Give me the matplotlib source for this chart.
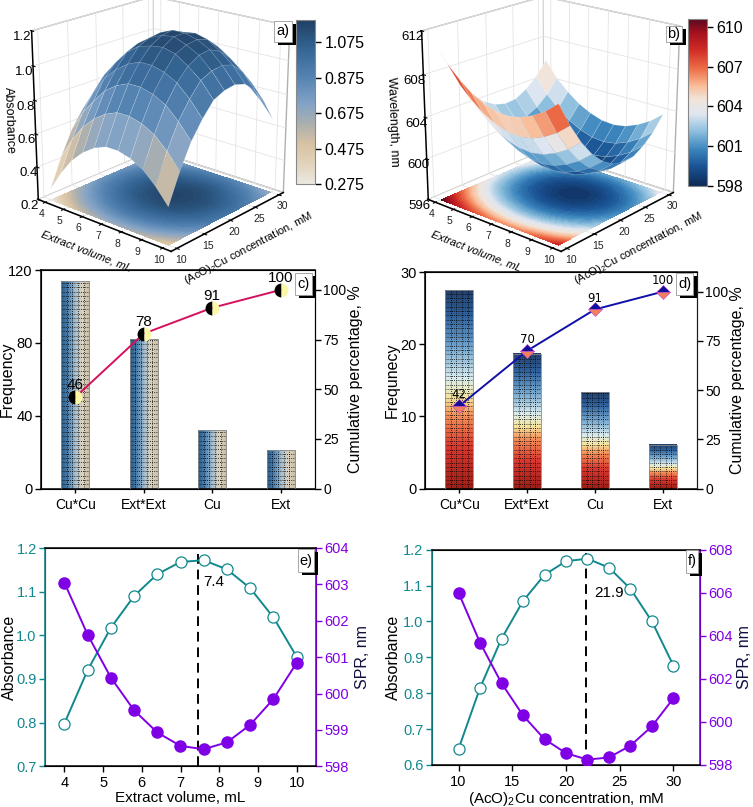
import numpy as np
import matplotlib
matplotlib.use("Agg")
import matplotlib.pyplot as plt
from matplotlib.colors import LinearSegmentedColormap, Normalize
from matplotlib.cm import ScalarMappable
from matplotlib.patches import Rectangle

plt.rcParams['font.family'] = ['Liberation Sans', 'DejaVu Sans']
plt.rcParams['mathtext.default'] = 'regular'
plt.rcParams['mathtext.fontset'] = 'custom'
plt.rcParams['mathtext.rm'] = 'Liberation Sans'

W, H = 753, 807

# ---------- data ----------
extract_grid = [4, 4.6, 5.2, 5.8, 6.4, 7.0, 7.6, 8.2, 8.8, 9.4, 10]
cu_grid = [10, 12, 14, 16, 18, 20, 22, 24, 26, 28, 30]
absorbance_surface = [
    [.27, .44, .58, .68, .76, .79, .80, .78, .72, .63, .50],
    [.39, .56, .70, .80, .88, .91, .92, .90, .84, .75, .62],
    [.49, .66, .79, .90, .97, 1.01, 1.02, .99, .93, .84, .72],
    [.56, .73, .87, .97, 1.05, 1.08, 1.09, 1.07, 1.01, .92, .79],
    [.61, .78, .92, 1.02, 1.10, 1.13, 1.14, 1.12, 1.06, .97, .84],
    [.64, .81, .95, 1.05, 1.12, 1.16, 1.17, 1.14, 1.08, .99, .87],
    [.64, .81, .95, 1.05, 1.13, 1.17, 1.17, 1.15, 1.09, 1.00, .87],
    [.62, .79, .93, 1.03, 1.11, 1.14, 1.15, 1.13, 1.07, .98, .85],
    [.58, .75, .89, .99, 1.06, 1.10, 1.11, 1.08, 1.02, .93, .81],
    [.51, .68, .82, .92, 1.00, 1.03, 1.04, 1.02, .96, .87, .74],
    [.42, .59, .73, .83, .91, .94, .95, .93, .87, .78, .65],
]
wavelength_surface = [
    [610.8, 608.5, 606.6, 605.1, 604.0, 603.3, 603.0, 603.1, 603.7, 604.6, 605.9],
    [609.3, 607.0, 605.1, 603.6, 602.5, 601.9, 601.6, 601.7, 602.2, 603.1, 604.4],
    [608.2, 605.9, 604.0, 602.5, 601.4, 600.7, 600.4, 600.5, 601.1, 602.0, 603.3],
    [607.3, 605.0, 603.1, 601.6, 600.5, 599.8, 599.5, 599.6, 600.2, 601.1, 602.4],
    [606.7, 604.4, 602.5, 601.0, 599.9, 599.2, 598.9, 599.0, 599.6, 600.5, 601.8],
    [606.3, 604.0, 602.1, 600.6, 599.5, 598.8, 598.5, 598.6, 599.2, 600.1, 601.4],
    [606.2, 603.9, 602.0, 600.5, 599.4, 598.7, 598.4, 598.5, 599.1, 600.0, 601.3],
    [606.4, 604.1, 602.2, 600.7, 599.6, 598.9, 598.6, 598.7, 599.3, 600.2, 601.5],
    [606.9, 604.6, 602.7, 601.2, 600.1, 599.4, 599.1, 599.2, 599.8, 600.7, 602.0],
    [607.6, 605.3, 603.4, 601.9, 600.8, 600.1, 599.8, 599.9, 600.5, 601.4, 602.7],
    [608.6, 606.3, 604.4, 602.9, 601.8, 601.1, 600.8, 600.9, 601.5, 602.4, 603.7],
]
pareto_terms = ['Cu*Cu', 'Ext*Ext', 'Cu', 'Ext']
freq_c = [114, 82, 32, 21]
cum_c = [46, 78, 91, 100]
freq_d = [27.5, 18.7, 13.4, 6.1]
cum_d = [42, 70, 91, 100]
ext_x = [4, 4.6, 5.2, 5.8, 6.4, 7.0, 7.6, 8.2, 8.8, 9.4, 10]
ext_abs = [.798, .92, 1.017, 1.09, 1.14, 1.168, 1.172, 1.151, 1.108, 1.041, .951]
ext_spr = [603.05, 601.62, 600.44, 599.54, 598.93, 598.56, 598.47, 598.66, 599.14, 599.85, 600.84]
cu_x = [10, 12, 14, 16, 18, 20, 22, 24, 26, 28, 30]
cu_abs = [.645, .815, .952, 1.057, 1.13, 1.168, 1.175, 1.15, 1.091, 1.0, .877]
cu_spr = [606.0, 603.68, 601.8, 600.3, 599.2, 598.55, 598.25, 598.35, 598.9, 599.8, 601.1]

cmap_a = LinearSegmentedColormap.from_list('a', [
    (0, '#ebe8e2'), (.12, '#e2d3bb'), (.24, '#d8c3a2'), (.36, '#aeb0ad'), (.48, '#85a4c6'),
    (.65, '#5584b3'), (.82, '#356695'), (1, '#1f3f63')])
cmap_b = LinearSegmentedColormap.from_list('b', [
    (0, '#0e2a56'), (.12, '#1a5596'), (.22, '#3c86bd'), (.33, '#8fc0de'), (.43, '#dfe6f0'),
    (.52, '#f0e4da'), (.6, '#f9bd98'), (.7, '#ee6f48'), (.82, '#d02a25'), (.92, '#a3101e'), (1, '#5c0a20')])
TEAL = '#12888e'
VIOLET = '#8000e6'


def rect(l, t, r, b):
    return [l / W, 1 - b / H, (r - l) / W, (b - t) / H]


fig = plt.figure(figsize=(W / 100, H / 100), dpi=100)


def tag(text, l, t, r, b):
    fig.add_artist(Rectangle((l + 4, H - b - 3), r - l, b - t, transform=None, fc='black', ec='none', zorder=20))
    fig.add_artist(Rectangle((l, H - b), r - l, b - t, transform=None, fc='white', ec='#999999', lw=.6, zorder=21))
    fig.text((l + r) / 2 / W, 1 - (t + b) / 2 / H, text, ha='center', va='center', fontsize=10.5, zorder=22)


def surface(pos, Z, cmap, vmin, vmax, zticks, zlabel, zlab_px):
    ax = fig.add_axes(rect(*pos), projection='3d', computed_zorder=False)
    X, Y = np.meshgrid(cu_grid, extract_grid)
    Z = np.array(Z)
    ax.view_init(elev=20, azim=-49)
    ax.set_box_aspect((1, 1, 1.0), zoom=1.11)
    ax.set_proj_type('persp', focal_length=0.8)
    ax.set_xlim(3.6, 10.4)
    ax.set_ylim(9, 31)
    ax.set_zlim(zticks[0], zticks[-1])
    ax.contourf(Y, X, Z, levels=np.linspace(vmin, vmax, 60), cmap=cmap, zdir='z', offset=zticks[0], zorder=1,
                extend='both', antialiased=False)
    ax.plot_surface(Y, X, Z, cmap=cmap, vmin=vmin, vmax=vmax, rstride=1, cstride=1, shade=False,
                    edgecolor=(1, 1, 1, .25), linewidth=.4, zorder=2)
    ax.set_xticks([4, 5, 6, 7, 8, 9, 10])
    ax.set_yticks([10, 15, 20, 25, 30])
    ax.set_zticks(zticks)
    ax.zaxis._axinfo['juggled'] = (1, 2, 0)
    ax.tick_params(axis='x', labelsize=7.5, pad=-5, labelcolor='#222222')
    ax.tick_params(axis='y', labelsize=7.5, pad=-5, labelcolor='#222222')
    ax.tick_params(axis='z', labelsize=9.5, pad=-4.5)
    ax.set_xlabel('Extract volume, mL', fontsize=8, style='italic', labelpad=-9)
    ax.set_ylabel(r'(AcO)$_2$Cu concentration, mM', fontsize=8, labelpad=-8)
    fig.text(zlab_px[0] / W, 1 - zlab_px[1] / H, zlabel, fontsize=9, rotation=-88, ha='center', va='center')
    for a in (ax.xaxis, ax.yaxis, ax.zaxis):
        a.set_pane_color((1, 1, 1, 1))
        a.pane.set_edgecolor('#b0b0b0')
        a._axinfo['grid'].update(color='#e4e4e4', linewidth=.6)
        a.line.set_color('black')
        a.line.set_linewidth(1.1)
    ax.patch.set_alpha(0)
    return ax


def cbar(pos, cmap, vmin, vmax, ticks, labels=None):
    cax = fig.add_axes(rect(*pos))
    cb = fig.colorbar(ScalarMappable(Normalize(vmin, vmax), cmap), cax=cax)
    cb.set_ticks(ticks)
    if labels:
        cb.set_ticklabels(labels)
    cb.ax.tick_params(labelsize=11.5, length=4, width=1, pad=3)
    cb.outline.set_edgecolor('#888888')
    return cb


surface((8, -17, 308, 253), absorbance_surface, cmap_a, .275, 1.2, [.2, .4, .6, .8, 1.0, 1.2], 'Absorbance', (9, 120))
cbar((296, 20, 315, 184), cmap_a, .275, 1.2, [.275, .475, .675, .875, 1.075], ['0.275', '0.475', '0.675', '0.875', '1.075'])
tag('a)', 274, 21, 292, 42)

surface((398, -17, 698, 253), wavelength_surface, cmap_b, 598, 610.6, [596, 600, 604, 608, 612], 'Wavelength, nm', (393, 122))
cbar((688, 19, 707, 186), cmap_b, 598, 610.6, [598, 601, 604, 607, 610])
tag('b)', 666, 26, 682, 42)


def label_x(axis, pos, x_px, sign):
    axis.set_label_coords((x_px + sign * 7 - pos[0]) / (pos[2] - pos[0]), 0.5)


def pareto(pos, freq, cum, ylim, yticks, ylabel, kind, lab_l, lab_r):
    ax = fig.add_axes(rect(*pos))
    ax.patch.set_alpha(0)
    xs = np.arange(len(freq))
    bars = ax.bar(xs, freq, width=.41, facecolor='none', edgecolor='#8a8a8a', linewidth=.6, zorder=3)
    for r in bars:
        x0, x1, h = r.get_x(), r.get_x() + r.get_width(), r.get_height()
        if kind == 'c':
            grad = np.linspace(0, 1, 64).reshape(1, -1)
            cm = LinearSegmentedColormap.from_list('g', ['#2c5a86', '#4e83b2', '#a8bfd0', '#dcd2bd', '#c8bca6'])
        else:
            grad = np.linspace(0, 1, 64).reshape(-1, 1)
            cm = LinearSegmentedColormap.from_list('g', [(0, '#9c2018'), (.2, '#d8372f'), (.36, '#f28a55'),
                                                         (.46, '#f5e6a0'), (.56, '#d8ebf0'), (.72, '#6fa3cd'),
                                                         (.88, '#2f5f99'), (1, '#24406a')])
        ax.imshow(grad, extent=[x0, x1, 0, h], origin='lower', aspect='auto', cmap=cm, zorder=1)
        step = ylim / 50.0
        ax.hlines(np.arange(step, h, step), x0, x1, colors='black', linestyles=(0, (1, 1.6)), linewidth=.6, zorder=2)
        ax.vlines(np.linspace(x0, x1, 6)[1:-1], 0, h, colors='black', linestyles=(0, (1, 1.6)), linewidth=.6, zorder=2)
    ax.set_xlim(-.5, 3.5)
    ax.set_ylim(0, ylim)
    ax.set_yticks(yticks)
    ax.set_xticks(xs, pareto_terms)
    ax.tick_params(axis='x', labelsize=10, length=3, pad=4, width=1)
    ax.tick_params(axis='y', labelsize=10.5, length=4, width=1, pad=2)
    ax.set_ylabel(ylabel, fontsize=11.5)
    label_x(ax.yaxis, pos, lab_l, 1)
    ax2 = ax.twinx()
    ax2.patch.set_alpha(0)
    ax2.set_ylim(0, 110)
    ax2.set_yticks([0, 25, 50, 75, 100])
    ax2.tick_params(axis='y', labelsize=10, length=4, width=1, pad=2)
    ax2.set_ylabel('Cumulative percentage, %', fontsize=11.5)
    label_x(ax2.yaxis, pos, lab_r, -1)
    if kind == 'c':
        ax2.plot(xs, cum, color='#d5105f', lw=1.4, marker='o', ms=10, fillstyle='left', mfc='black',
                 mfcalt='#fbf7a5', mec='none', zorder=5)
        for x, v in zip(xs, cum):
            ax2.text(x, v + 2.5, str(v), ha='center', va='bottom', fontsize=11, zorder=6)
    else:
        ax2.plot(xs, cum, color='#1010a8', lw=1.4, marker='D', ms=7, fillstyle='top', mfc='#10109a',
                 mfcalt='#f2805f', mec='#c040d0', mew=.4, zorder=5)
        for x, v in zip(xs, cum):
            ax2.text(x, v + 2.5, str(v), ha='center', va='bottom', fontsize=8.5, family='DejaVu Sans', zorder=6)
        ax2.spines['right'].set_color('#101070')
    for s in ('top', 'left', 'bottom'):
        ax.spines[s].set_linewidth(1.1)
    return ax


pareto((41, 270, 315, 488.7), freq_c, cum_c, 120, [0, 40, 80, 120], 'Frequency', 'c', 8, 355)
tag('c)', 295, 273, 312, 295)
pareto((425.3, 272, 696.7, 488.7), freq_d, cum_d, 30, [0, 10, 20, 30], 'Frequnecy', 'd', 393, 737)
tag('d)', 676, 273, 693, 295)


def profile(pos, x, a, s, xlim, xticks, ylim, yticks, ylim2, yticks2, xlabel, opt, opt_label, optpos, lab_l, lab_r):
    ax = fig.add_axes(rect(*pos))
    ax.plot(x, a, color=TEAL, lw=1.4, marker='o', ms=8, mfc='white', mec=TEAL, mew=.9, zorder=4)
    ax.set_xlim(*xlim)
    ax.set_ylim(*ylim)
    ax.set_xticks(xticks)
    ax.set_yticks(yticks)
    ax.set_yticklabels([f'{v:.1f}' for v in yticks])
    ax.tick_params(axis='x', labelsize=10.5, length=4, width=1, pad=3)
    ax.tick_params(axis='y', labelsize=10.5, length=4, width=1, colors=TEAL, pad=2)
    ax.set_xlabel(xlabel, fontsize=11, labelpad=1)
    ax.set_ylabel('Absorbance', fontsize=11.5)
    label_x(ax.yaxis, pos, lab_l, 1)
    ax.axvline(opt, color='black', ls=(0, (5, 3)), lw=1.4, zorder=3)
    ax.text(optpos[0], optpos[1], opt_label, fontsize=11, va='center', ha='left')
    ax2 = ax.twinx()
    ax2.plot(x, s, color=VIOLET, lw=1.4, marker='o', ms=8, mfc=VIOLET, mec=VIOLET, zorder=5)
    ax2.set_ylim(*ylim2)
    ax2.set_yticks(yticks2)
    ax2.tick_params(axis='y', labelsize=10.5, length=4, width=1, colors=VIOLET, pad=2)
    ax2.set_ylabel('SPR, nm', fontsize=11.5, color='#101040')
    label_x(ax2.yaxis, pos, lab_r, -1)
    ax2.spines['left'].set_color(TEAL)
    ax2.spines['right'].set_color(VIOLET)
    ax2.spines['left'].set_linewidth(1.2)
    ax2.spines['right'].set_linewidth(1.2)
    for s_ in ('top', 'bottom'):
        ax2.spines[s_].set_linewidth(1.1)
    return ax


profile((45, 548, 316, 766.3), ext_x, ext_abs, ext_spr, (3.5, 10.5), [4, 5, 6, 7, 8, 9, 10], (.7, 1.2),
        [.7, .8, .9, 1.0, 1.1, 1.2], (598, 604), [598, 599, 600, 601, 602, 603, 604], 'Extract volume, mL',
        7.45, '7.4', (7.58, 1.122), 10, 362)
tag('e)', 298, 549, 314, 572)
profile((431.7, 549.7, 700.3, 765), cu_x, cu_abs, cu_spr, (7.5, 32.5), [10, 15, 20, 25, 30], (.6, 1.2),
        [.6, .7, .8, .9, 1.0, 1.1, 1.2], (598, 608), [598, 600, 602, 604, 606, 608], r'(AcO)$_2$Cu concentration, mM',
        21.9, '21.9', (22.6, 1.08), 394, 744)
tag('f)', 686, 550, 698, 573)

fig.savefig('out.png', dpi=100)
